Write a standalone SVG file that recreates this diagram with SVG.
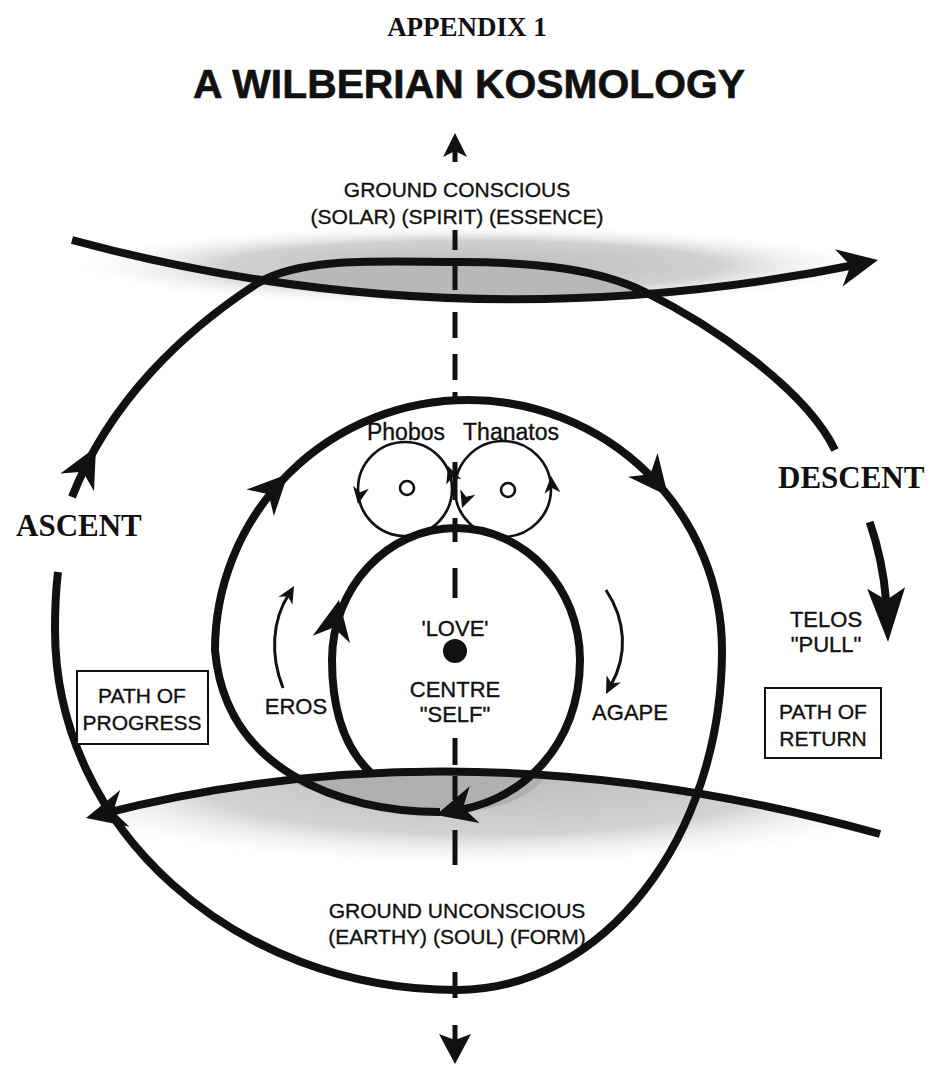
<svg xmlns="http://www.w3.org/2000/svg" width="930" height="1067" viewBox="0 0 930 1067">
<style>
.t{font-family:"Liberation Sans",Arial,sans-serif;fill:#111;stroke:#111;stroke-width:0.35;text-anchor:middle}
.l{font-size:21px}
.sf{font-family:"Liberation Serif","Times New Roman",serif;font-weight:bold;fill:#111}
.thick{fill:none;stroke:#111;stroke-width:8}
.thin{fill:none;stroke:#111;stroke-width:3}
.ring{fill:none;stroke:#111;stroke-width:2.6}
.dash{fill:none;stroke:#111;stroke-width:5}
.hd{fill:#111}
.box{fill:#fff;stroke:#111;stroke-width:2}
</style>
<defs>
<radialGradient id="gTop" cx="0.5" cy="0.5" r="0.5">
<stop offset="0" stop-color="#bcbcbc"/>
<stop offset="0.6" stop-color="#d0d0d0"/>
<stop offset="1" stop-color="#ffffff" stop-opacity="0"/>
</radialGradient>
<radialGradient id="gBot" cx="0.5" cy="0.3" r="0.6">
<stop offset="0" stop-color="#bdbdbd"/>
<stop offset="0.6" stop-color="#d2d2d2"/>
<stop offset="1" stop-color="#ffffff" stop-opacity="0"/>
</radialGradient>
<clipPath id="belowBand"><path d="M60,818 L100,815 Q470,720 880,834 L900,834 L900,910 L60,910 Z"/></clipPath>
<path id="ah" d="M0,0 L-40,-19 L-28,0 L-40,19 Z"/>
<path id="ahB" d="M0,0 L-54,-19 L-42,0 L-54,19 Z"/>
<path id="ahS" d="M0,0 L-17,-8 L-12,0 L-17,8 Z"/>
</defs>
<rect width="930" height="1067" fill="#fff"/>

<g id="shading">
<ellipse cx="472" cy="266" rx="412" ry="42" fill="url(#gTop)"/>
<path d="M258,283 C303,256 385,262 460,262 C540,262 600,270 645,292 Q455,310 258,283 Z" fill="#b8b8b8"/>
<ellipse cx="485" cy="810" rx="405" ry="75" fill="url(#gBot)" clip-path="url(#belowBand)"/>
<path d="M290,780 Q470,762 548,775 C525,803 490,812 440,812 C380,812 330,802 290,780 Z" fill="#b0b0b0"/>
</g>

<g id="title">
<text class="sf" x="467" y="36" font-size="27" text-anchor="middle">APPENDIX 1</text>
<text x="193" y="98" font-family="Liberation Sans,Arial,sans-serif" font-weight="bold" font-size="40" fill="#111" stroke="#111" stroke-width="0.6" textLength="552" lengthAdjust="spacingAndGlyphs">A WILBERIAN KOSMOLOGY</text>
</g>

<g id="connectors">
<path class="dash" d="M455,230 V250 M455,266 V290 M455,312 V338 M455,354 V380 M455,392 V400 M455,462 V500 M455,518 V542 M455,568 V598 M455,738 V765 M455,776 V800 M455,830 V865 M455,972 V998"/>
<path class="dash" d="M455,150 V162 M455,1025 V1040"/>
<path class="hd" d="M455,133 L467,157 L455,151 L443,157 Z"/>
<path class="hd" d="M455,1064 L439,1034 L455,1040 L471,1034 Z"/>
<path id="bandTop" class="thick" d="M72,240 Q460,345 860,264"/>
<use href="#ah" class="hd" transform="translate(878,260) rotate(-11.5)"/>
<path id="bandBottom" class="thick" d="M880,834 Q470,720 102,814"/>
<use href="#ah" class="hd" transform="translate(86,818) rotate(166)"/>
<path id="inner" class="thick" stroke-width="9" d="M370,772 C345,748 332,710 332,660 C332,588 387,528 456,528 C525,528 580,588 580,660 C580,745 522,805 445,812"/>
<use href="#ah" class="hd" transform="translate(339,600) rotate(-79)"/>
<use href="#ah" class="hd" transform="translate(436,815) rotate(165)"/>
<path id="spiral" class="thick" d="M440,812 C340,812 225,770 215,650 A253 250 0 0 1 468,400 A254 250 0 0 1 722,650 C722,838 603,990 457,990 C235,990 55,829 55,630 C55,605 56,588 58,572"/>
<use href="#ah" class="hd" transform="translate(288,474) rotate(-46)"/>
<use href="#ah" class="hd" transform="translate(668,496) rotate(51)"/>
<path id="outerTop" class="thick" d="M72,497 C110,400 185,330 258,283 C303,256 385,262 460,262 C540,262 600,270 645,292 C710,324 805,388 835,450"/>
<use href="#ah" class="hd" transform="translate(96,447) rotate(-62)"/>
<path id="descent" class="thick" d="M869.7,522 A430 367 0 0 1 886,600"/>
<use href="#ahB" class="hd" transform="translate(888,642) rotate(88)"/>
<path id="eros" class="thin" d="M283,688 C270,655 272,620 289,594"/>
<use href="#ahS" class="hd" transform="translate(294,586) rotate(-60)"/>
<path id="agape" class="thin" d="M606,590 C626,620 628,655 611,685"/>
<use href="#ahS" class="hd" transform="translate(606,694) rotate(117)"/>
</g>

<g id="ground-conscious">
<text class="t l" x="457" y="197">GROUND CONSCIOUS</text>
<text class="t l" x="457" y="224">(SOLAR) (SPIRIT) (ESSENCE)</text>
</g>

<g id="phobos">
<circle class="ring" cx="405" cy="489" r="47"/>
<circle class="ring" cx="407" cy="488" r="7"/>
<use href="#ahS" class="hd" transform="translate(358,504) rotate(100)"/>
<use href="#ahS" class="hd" transform="translate(448,466) rotate(-110)"/>
<text class="t" x="406" y="440" font-size="23">Phobos</text>
</g>
<g id="thanatos">
<circle class="ring" cx="503" cy="489" r="48"/>
<circle class="ring" cx="508" cy="490" r="7"/>
<use href="#ahS" class="hd" transform="translate(462,508) rotate(110)"/>
<use href="#ahS" class="hd" transform="translate(551,476) rotate(-95)"/>
<text class="t" x="511" y="440" font-size="23">Thanatos</text>
</g>

<g id="centre">
<text class="t" x="455" y="636" font-size="22">'LOVE'</text>
<circle cx="455" cy="651" r="12" fill="#111"/>
<text class="t" x="455" y="697" font-size="22">CENTRE</text>
<text class="t" x="455" y="722" font-size="22">"SELF"</text>
</g>

<g id="eros-label"><text class="t" x="296" y="714" font-size="22">EROS</text></g>
<g id="agape-label"><text class="t" x="630" y="720" font-size="22">AGAPE</text></g>

<g id="ascent"><text class="sf" x="16" y="536" font-size="31">ASCENT</text></g>
<g id="descent-label"><text class="sf" x="778" y="488" font-size="31">DESCENT</text></g>

<g id="telos">
<text class="t" x="826" y="627" font-size="22">TELOS</text>
<text class="t" x="826" y="652" font-size="22">"PULL"</text>
</g>

<g id="path-of-progress">
<rect class="box" x="77" y="671" width="131" height="73"/>
<text class="t l" x="142" y="703">PATH OF</text>
<text class="t l" x="142" y="730">PROGRESS</text>
</g>
<g id="path-of-return">
<rect class="box" x="765" y="688" width="116" height="70"/>
<text class="t l" x="823" y="719">PATH OF</text>
<text class="t l" x="823" y="746">RETURN</text>
</g>

<g id="ground-unconscious">
<text class="t l" x="457" y="918">GROUND UNCONSCIOUS</text>
<text class="t l" x="457" y="944">(EARTHY) (SOUL) (FORM)</text>
</g>
</svg>
